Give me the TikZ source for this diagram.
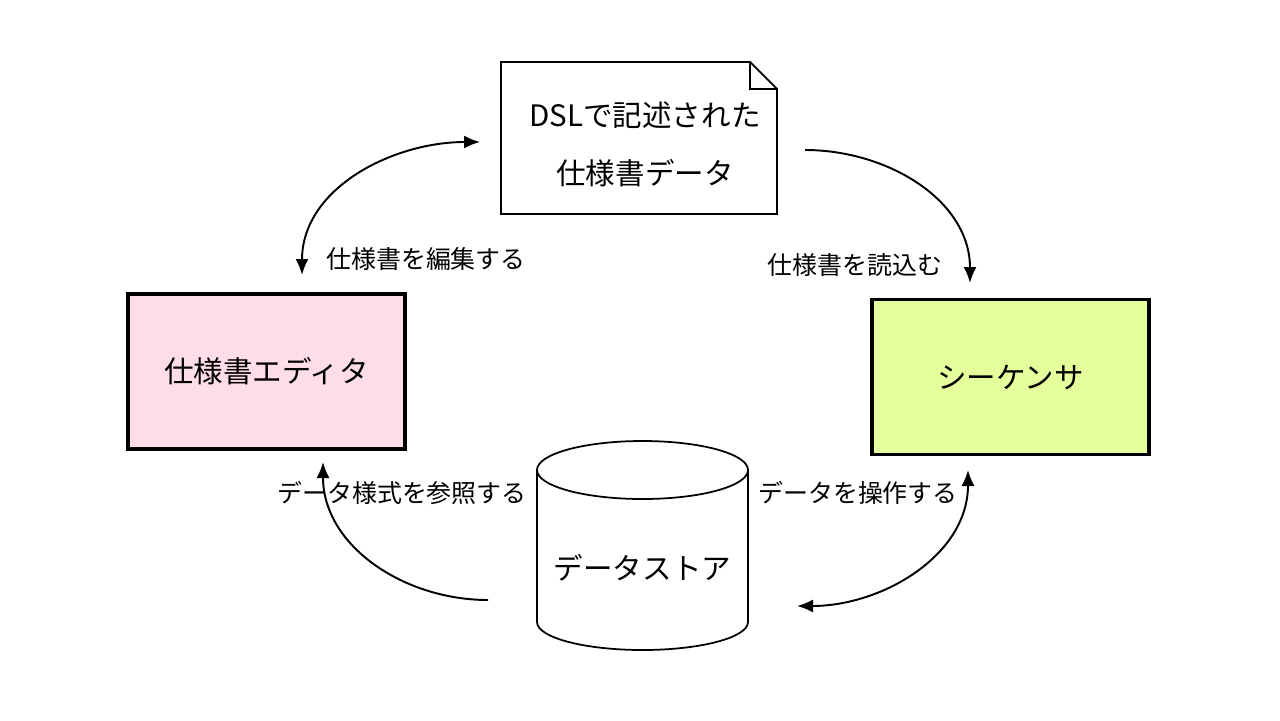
\documentclass[tikz,border=0pt]{standalone}
\usepackage{fontspec}
\newfontfamily\jpfont{Noto Sans CJK JP}
\usepackage{tikz}
\usetikzlibrary{arrows.meta}

\definecolor{editorpink}{HTML}{FFDDE8}
\definecolor{seqgreen}{HTML}{E4FF9C}

\tikzset{
  compbox/.style={draw=black, line width=2pt, minimum width=55.4mm, minimum height=31mm,
                  font=\jpfont\fontsize{16.8}{33}\selectfont},
  flowarrow/.style={line width=1.1pt, -{Latex[length=3.2mm,width=2.6mm]}},
  bothways/.style={line width=1.1pt, {Latex[length=3.2mm,width=2.6mm]}-{Latex[length=3.2mm,width=2.6mm]}},
  arrowlabel/.style={font=\jpfont\fontsize{14.2}{17}\selectfont}
}

\begin{document}
\begin{tikzpicture}[x=0.02cm, y=-0.02cm]
        \useasboundingbox [fill=white] (0,0) rectangle (1280,720);

        % specification document (folded corner)
        \draw [line width=1pt, fill=white] (501,62) -- (750,62) -- (777,89) -- (777,214) -- (501,214) -- cycle;
        \draw [line width=1pt]             (750,62) -- (750,89) -- (777,89);
        \node (spec) [align=center, font=\jpfont\fontsize{16.8}{33}\selectfont] at (645,144)
              {DSLで記述された\\仕様書データ};

        % editor and sequencer
        \node (editor)    [compbox, fill=editorpink] at (266.5,371.5) {仕様書エディタ};
        \node (sequencer) [compbox, fill=seqgreen]   at (1010.5,377)  {シーケンサ};

        % data store (cylinder)
        \draw [line width=1pt, fill=white] (537,470) -- (537,622) arc [start angle=180, end angle=360, x radius=105.5, y radius=-28]
              -- (748,470) arc [start angle=0, end angle=180, x radius=105.5, y radius=-29] -- cycle;
        \draw [line width=1pt] (537,470) arc [start angle=180, end angle=360, x radius=105.5, y radius=-29];
        \node (store) [font=\jpfont\fontsize{16.8}{33}\selectfont] at (642.5,568) {データストア};

        % connector end points
        \coordinate (editTop)  at (302,275);
        \coordinate (specIn)   at (480,142);
        \coordinate (specOut)  at (805,150);
        \coordinate (seqTop)   at (970,283);
        \coordinate (storeL)   at (488,600);
        \coordinate (editBot)  at (323,462);
        \coordinate (storeR)   at (797,606);
        \coordinate (seqBot)   at (968,470);

        \draw [bothways]  (editTop) to [out=90, in=180]  (specIn);
        \draw [flowarrow] (specOut) to [out=0, in=90]    (seqTop);
        \draw [flowarrow] (storeL)  to [out=180, in=-90] (editBot);
        \draw [bothways]  (storeR)  to [out=0, in=-90]   (seqBot);

        % labels
        \node (editLbl)  [arrowlabel] at (426,259) {仕様書を編集する};
        \node (readLbl)  [arrowlabel] at (855,265) {仕様書を読込む};
        \node (refLbl)   [arrowlabel] at (402,493) {データ様式を参照する};
        \node (opLbl)    [arrowlabel] at (858,493) {データを操作する};
      \end{tikzpicture}
\end{document}
